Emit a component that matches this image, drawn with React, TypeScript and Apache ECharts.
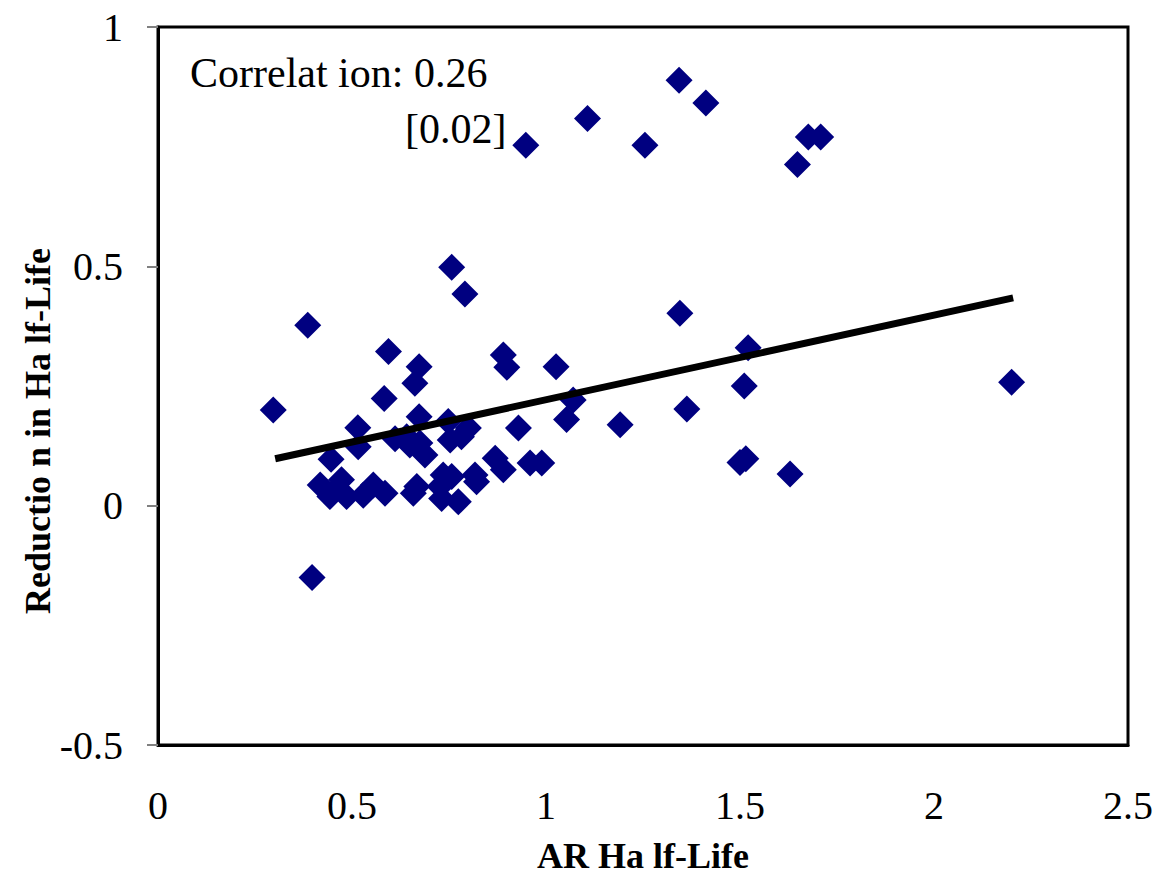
import React, { useEffect, useRef } from "react";
import * as echarts from "echarts";

// AR half-life (x) and reduction in half-life (y)
const xValues: number[] = [
  0.948, 1.107, 1.255, 1.343, 1.412, 1.648, 1.676, 1.708,
  0.386, 0.757, 0.791, 0.594, 0.673, 0.662, 0.890, 0.899, 1.026, 1.345, 1.521, 1.511,
  1.363, 2.200, 1.191, 1.053, 1.070, 0.297, 0.583, 0.515, 0.516, 0.446,
  0.673, 0.748, 0.800, 0.753, 0.782, 0.929, 0.611, 0.641, 0.649, 0.675,
  0.688, 0.869, 0.890, 0.959, 0.989, 0.817, 0.821, 0.735, 0.757, 0.658,
  0.727, 0.731, 0.774, 0.667, 1.500, 1.515, 1.629, 0.397,
  0.418, 0.443, 0.473, 0.486, 0.529, 0.555, 0.585, 0.460,
];
const yValues: number[] = [
  0.753, 0.809, 0.753, 0.889, 0.841, 0.713, 0.770, 0.770,
  0.377, 0.498, 0.442, 0.322, 0.290, 0.256, 0.315, 0.289, 0.290, 0.402, 0.330, 0.250,
  0.202, 0.258, 0.169, 0.180, 0.221, 0.200, 0.224, 0.163, 0.123, 0.097,
  0.186, 0.176, 0.162, 0.137, 0.144, 0.162, 0.140, 0.144, 0.127, 0.131,
  0.106, 0.099, 0.075, 0.089, 0.089, 0.064, 0.050, 0.064, 0.061, 0.026,
  0.040, 0.015, 0.008, 0.040, 0.090, 0.098, 0.066, -0.150,
  0.043, 0.019, 0.054, 0.019, 0.022, 0.043, 0.026, 0.035,
];

// fitted line end points
const trendX: number[] = [0.302, 2.204];
const trendY: number[] = [0.098, 0.434];

const xTicks = { min: 0, max: 2.5, interval: 0.5 };
const yTicks = { min: -0.5, max: 1, interval: 0.5 };

const correlationText = "Correlat ion: 0.26";
const pValueText = "[0.02]";
const xTitle = "AR Ha lf-Life";
const yTitle = "Reductio n in Ha lf-Life";

const FONT = "Liberation Serif";

export default function App() {
  const ref = useRef<HTMLDivElement>(null);

  useEffect(() => {
    if (!ref.current) return;
    const chart = echarts.init(ref.current, null, { renderer: "svg" });
    const points = xValues.map((x, i) => [x, yValues[i]]);
    const trend = trendX.map((x, i) => [x, trendY[i]]);

    chart.setOption({
      animation: false,
      backgroundColor: "#ffffff",
      textStyle: { fontFamily: FONT },
      grid: {
        left: 158,
        right: 28,
        top: 27,
        bottom: 135,
        containLabel: false,
        outerBoundsMode: "none",
        show: true,
        borderColor: "#000000",
        borderWidth: 3,
        backgroundColor: "transparent",
      },
      xAxis: {
        type: "value",
        min: xTicks.min,
        max: xTicks.max,
        interval: xTicks.interval,
        name: xTitle,
        nameLocation: "middle",
        nameGap: 93,
        nameTextStyle: {
          fontFamily: FONT,
          fontSize: 36,
          fontWeight: "bold",
          color: "#000000",
        },
        axisLine: { show: true, onZero: false, lineStyle: { color: "#000000", width: 3 } },
        axisTick: { show: false },
        splitLine: { show: false },
        axisLabel: {
          fontFamily: FONT,
          fontSize: 40,
          color: "#000000",
          margin: 40,
          formatter: (v: number) => String(v),
        },
      },
      yAxis: {
        type: "value",
        min: yTicks.min,
        max: yTicks.max,
        interval: yTicks.interval,
        axisLine: { show: true, onZero: false, lineStyle: { color: "#000000", width: 3 } },
        axisTick: { show: true, inside: false, length: 11, lineStyle: { color: "#808080", width: 2 } },
        splitLine: { show: false },
        axisLabel: {
          fontFamily: FONT,
          fontSize: 40,
          color: "#000000",
          margin: 35,
          formatter: (v: number) => String(v),
        },
      },
      graphic: [
        {
          type: "text",
          x: 190,
          y: 52,
          style: {
            text: correlationText,
            fontSize: 42,
            fontFamily: FONT,
            fill: "#000000",
          },
        },
        {
          type: "text",
          x: 405,
          y: 108,
          style: {
            text: pValueText,
            fontSize: 42,
            fontFamily: FONT,
            fill: "#000000",
          },
        },
        {
          type: "text",
          x: 38,
          y: 431,
          rotation: Math.PI / 2,
          style: {
            text: yTitle,
            fontSize: 36,
            fontFamily: FONT,
            fontWeight: "bold",
            fill: "#000000",
            align: "center",
            verticalAlign: "middle",
          },
        },
      ],
      series: [
        {
          type: "scatter",
          data: points,
          symbol: "diamond",
          symbolSize: 27,
          itemStyle: { color: "#000080", opacity: 1 },
          z: 2,
        },
        {
          type: "line",
          data: trend,
          showSymbol: false,
          symbol: "none",
          lineStyle: { color: "#000000", width: 7 },
          z: 3,
        },
      ],
    });

    return () => chart.dispose();
  }, []);

  return (
    <div
      ref={ref}
      style={{ position: "fixed", left: 0, top: 0, width: 1156, height: 880, background: "#fff" }}
    />
  );
}
